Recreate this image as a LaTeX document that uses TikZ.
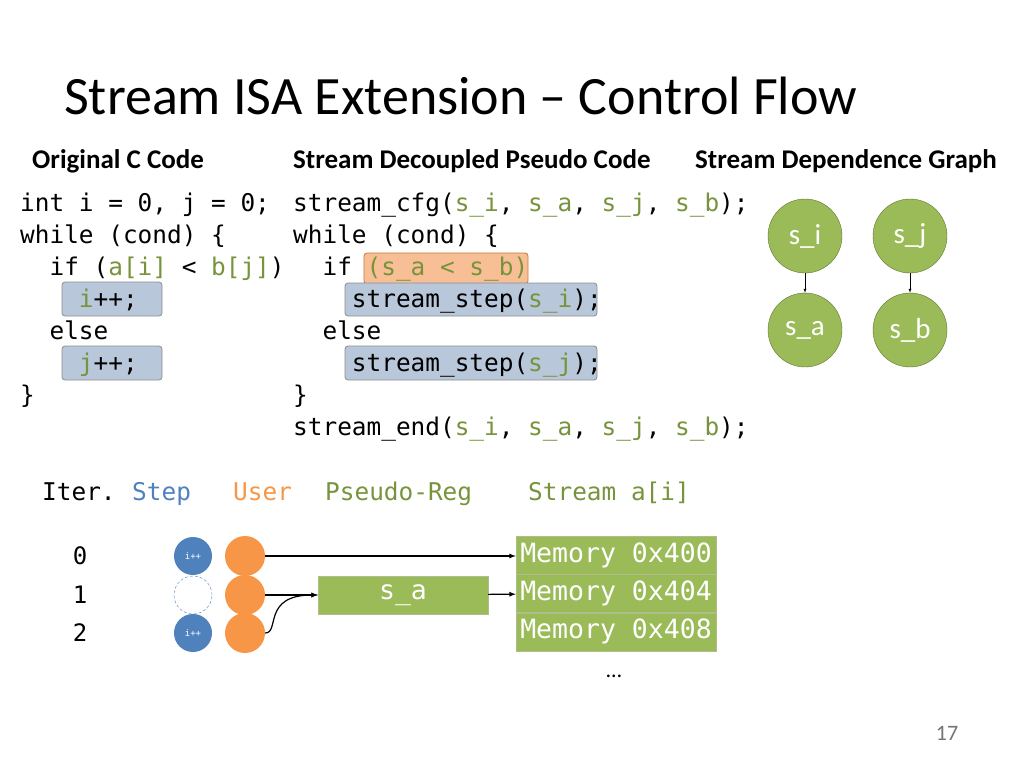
\documentclass[tikz,border=0pt]{standalone}
\usepackage{fontspec}
\setmainfont{Carlito}
\setmonofont{DejaVu Sans Mono}
\usetikzlibrary{positioning}
\usetikzlibrary{arrows}
\definecolor{sgreen}{HTML}{9BBB59}
\definecolor{tgreen}{HTML}{77933C}
\definecolor{sblue}{HTML}{4F81BD}
\definecolor{sorange}{HTML}{F79646}
\definecolor{hblue}{HTML}{B9C7DB}
\definecolor{horange}{HTML}{F8BF96}
\newcommand{\sg}[1]{\textcolor{tgreen}{#1}}
\begin{document}
\begin{tikzpicture}
[x=1pt,y=-1pt,
 code/.style={anchor=base west,inner sep=0pt,font=\fontsize{24.4}{24}\selectfont\ttfamily},
 head/.style={anchor=base west,inner sep=0pt,font=\fontsize{27}{27}\selectfont\bfseries},
 hl/.style={draw=black!45,fill=hblue,rounded corners=3pt,thick},
 hlo/.style={draw=sorange!80!black,fill=horange,rounded corners=3pt,thick},
 snode/.style={circle,draw=tgreen!80!black,fill=sgreen,minimum size=74pt,inner sep=0pt,
   text=white,font=\fontsize{29}{29}\selectfont},
 stepnode/.style={circle,fill=sblue,minimum size=38pt,inner sep=0pt,text=white,font=\fontsize{9}{9}\selectfont\ttfamily},
 user/.style={circle,fill=sorange,minimum size=40pt,inner sep=0pt},
 mem/.style={draw=tgreen!60,fill=sgreen,minimum width=200pt,minimum height=38pt,inner sep=0pt,
   text=white,font=\fontsize{26.5}{26}\selectfont\ttfamily},
 conn/.style={very thick,-latex}]

\useasboundingbox (0,0) rectangle (1024,768);

% highlights
\filldraw[hl] (62,282) rectangle (162,316);
\filldraw[hl] (62,346) rectangle (162,380);
\filldraw[hlo] (364,253) rectangle (528,284);
\filldraw[hl] (345,283) rectangle (597,316);
\filldraw[hl] (345,346) rectangle (597,380);

% title and headers
\node (title) [anchor=base west,inner sep=0pt,font=\fontsize{54}{54}\selectfont] at (64,114) {Stream ISA Extension – Control Flow};
\node (h1) [head] at (32,168) {Original C Code};
\node (h2) [head] at (293,168) {Stream Decoupled Pseudo Code};
\node (h3) [head] at (695,168) {Stream Dependence Graph};

% original code
\node (c1) [code] at (20,211) {int i = 0, j = 0;};
\node (c2) [code] at (20,243) {while (cond) \{};
\node (c3) [code] at (20,275) {\ \ if (\sg{a[i]} < \sg{b[j]})};
\node (c4) [code] at (20,307) {\ \ \ \ \sg{i}++;};
\node (c5) [code] at (20,339) {\ \ else};
\node (c6) [code] at (20,371) {\ \ \ \ \sg{j}++;};
\node (c7) [code] at (20,403) {\}};

% stream code
\node (d1) [code] at (293,211) {stream\_cfg(\sg{s\_i}, \sg{s\_a}, \sg{s\_j}, \sg{s\_b});};
\node (d2) [code] at (293,243) {while (cond) \{};
\node (d3) [code] at (293,275) {\ \ if \sg{(s\_a < s\_b)}};
\node (d4) [code] at (293,307) {\ \ \ \ stream\_step(\sg{s\_i});};
\node (d5) [code] at (293,339) {\ \ else};
\node (d6) [code] at (293,371) {\ \ \ \ stream\_step(\sg{s\_j});};
\node (d7) [code] at (293,403) {\}};
\node (d8) [code] at (293,435) {stream\_end(\sg{s\_i}, \sg{s\_a}, \sg{s\_j}, \sg{s\_b});};

% dependence graph
\node (si) [snode] at (805,236) {s\_i};
\node (sj) [snode] at (910,236) {s\_j};
\node (sa) [snode] at (805,330) {s\_a};
\node (sb) [snode] at (910,330) {s\_b};
\draw [-latex] (si) -- (sa);
\draw [-latex] (sj) -- (sb);

% iteration table
\node (iter) [code] at (42,500) {Iter.};
\node (lstep) [code,text=sblue] at (132,500) {Step};
\node (luser) [code,text=sorange] at (233,500) {User};
\node (lreg) [code,text=tgreen] at (325,500) {Pseudo-Reg};
\node (lstr) [code,text=tgreen] at (528,500) {Stream a[i]};

\foreach \i/\y in {0/556,1/595,2/633}
  \node (n\i) [font=\fontsize{24}{24}\selectfont\ttfamily] at (80,\y) {\i};
\node (st0) [stepnode] at (193,556) {i++};
\node (st1) [circle,draw=sblue,densely dashed,minimum size=38pt,inner sep=0pt] at (193,595) {};
\node (st2) [stepnode] at (193,633) {i++};
\node (u0) [user] at (245,556) {};
\node (u1) [user] at (245,595) {};
\node (u2) [user] at (245,633) {};

\node (reg) [mem,minimum width=170pt] at (403,595) {s\_a};
\node (m0) [mem] at (616,555) {Memory 0x400};
\node (m1) [mem,below=0pt of m0] {Memory 0x404};
\node (m2) [mem,below=0pt of m1] {Memory 0x408};

\draw [conn] (u0) -- (m0.west |- u0);
\draw [conn] (u1) -- (reg);
\draw [conn] (u2.east) .. controls (280,633) and (262,595) .. (reg.west);
\draw [conn] (reg) -- (m1);

\node (dots) [font=\fontsize{22}{22}\selectfont] at (614,676) {…};
\node (page) [text=black!55,font=\fontsize{22}{22}\selectfont] at (947,733) {17};
\end{tikzpicture}
\end{document}
